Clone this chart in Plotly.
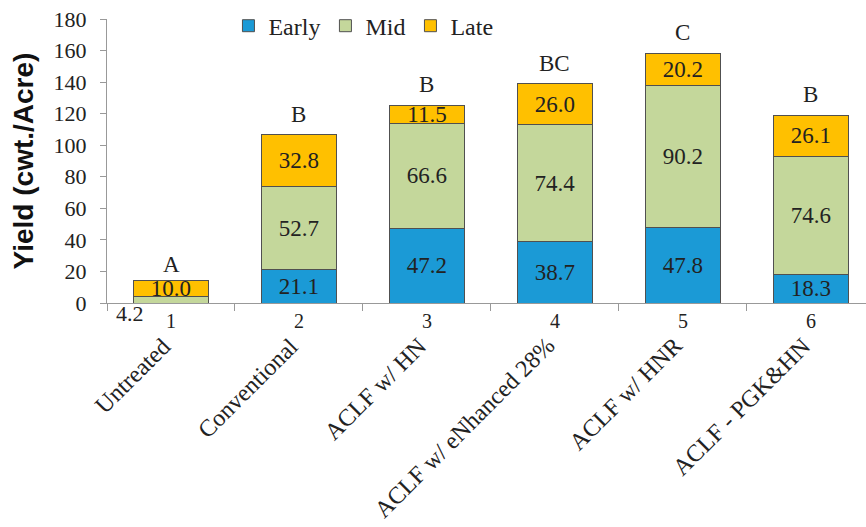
import plotly.graph_objects as go

categories = ["Untreated", "Conventional", "ACLF w/ HN", "ACLF w/ eNhanced 28%", "ACLF w/ HNR", "ACLF - PGK&HN"]
numbers = ["1", "2", "3", "4", "5", "6"]
early = [0.0, 21.1, 47.2, 38.7, 47.8, 18.3]
mid = [4.2, 52.7, 66.6, 74.4, 90.2, 74.6]
late = [10.0, 32.8, 11.5, 26.0, 20.2, 26.1]
letters = ["A", "B", "B", "BC", "C", "B"]

SERIF = "Liberation Serif"
TXT = "#222222"

fig = go.Figure()

def lab(vals, skip_first=False):
    out = []
    for i, v in enumerate(vals):
        if v == 0 or (skip_first and i == 0):
            out.append("")
        else:
            out.append(f"{v:.1f}")
    return out

series = [
    ("Early", early, "#1B9AD6", lab(early)),
    ("Mid", mid, "#C4D79B", lab(mid, skip_first=True)),
    ("Late", late, "#FFC000", lab(late)),
]
for name, vals, color, txt in series:
    fig.add_trace(go.Bar(
        name=name, x=categories, y=vals, text=txt,
        marker=dict(color=color, line=dict(color="#505050", width=1)),
        textposition="inside", insidetextanchor="middle", textangle=0,
        textfont=dict(family=SERIF, size=23, color=TXT),
        width=0.58,
    ))

totals = [e + m + l for e, m, l in zip(early, mid, late)]
for i, (c, t, L) in enumerate(zip(categories, totals, letters)):
    fig.add_annotation(x=c, y=t, text=L, showarrow=False, yanchor="bottom",
                       yshift=2 if i == 0 else 6,
                       font=dict(family=SERIF, size=23, color=TXT))

# category names rotated
for c in categories:
    fig.add_annotation(x=c, y=0, xref="x", yref="paper", text=c, showarrow=False,
                       textangle=-45, xanchor="right", yanchor="top",
                       xshift=7, yshift=-27,
                       font=dict(family=SERIF, size=24, color=TXT))

# the Untreated mid label placed below the axis
fig.add_annotation(x=categories[0], y=0, text=f"{mid[0]:.1f}", showarrow=False,
                   xshift=-41, yshift=-10, font=dict(family=SERIF, size=22, color=TXT))

fig.update_layout(
    barmode="stack",
    width=866, height=527,
    margin=dict(l=107, r=0, t=19, b=224),
    plot_bgcolor="white", paper_bgcolor="white",
    uniformtext=dict(minsize=23, mode="show"),
    legend=dict(orientation="h", x=0.16, y=0.975, xanchor="left", yanchor="middle",
                traceorder="normal",
                font=dict(family=SERIF, size=24, color=TXT), bgcolor="rgba(0,0,0,0)",
                itemwidth=30, tracegroupgap=0),
    yaxis=dict(range=[0, 180], dtick=20, showgrid=False, showline=True,
               linecolor="#999999", ticks="outside", ticklen=6, tickcolor="#999999",
               ticklabelstandoff=9,
               tickfont=dict(family=SERIF, size=22, color=TXT),
               title=dict(text="<b>Yield (cwt./Acre)</b>", standoff=11,
                          font=dict(family="Liberation Sans", size=28, color="#111111"))),
    xaxis=dict(type="category", range=[-0.5, 5.43], showgrid=False, showline=True,
               linecolor="#999999", ticks="outside", ticklen=7, tickcolor="#999999",
               tickson="boundaries", tickvals=categories, ticktext=numbers,
               tickfont=dict(family=SERIF, size=20, color=TXT)),
    showlegend=True,
)

fig.write_html("out.html")
